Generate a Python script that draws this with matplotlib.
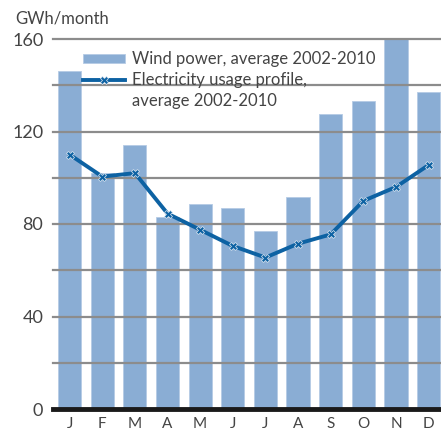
import matplotlib
matplotlib.use("Agg")
import matplotlib.pyplot as plt
from matplotlib.lines import Line2D

months = ["J", "F", "M", "A", "M", "J", "J", "A", "S", "O", "N", "D"]
wind = [146, 102, 114, 83, 88.5, 87, 77, 91.5, 127.5, 133, 160, 137]
usage = [110, 100.5, 102, 84.5, 77.5, 70.5, 65.5, 71.5, 75.5, 90, 96, 105.5]

bar_color = "#8aadd4"
line_color = "#0d62a3"
grid_color = "#8c8c8c"
text_color = "#444444"

plt.rcParams["font.family"] = ["Lato", "DejaVu Sans"]

fig = plt.figure(figsize=(4.41, 4.33), dpi=100)
ax = fig.add_axes([53 / 441, 1 - 409 / 433, 388 / 441, 370 / 433])

x = list(range(len(months)))
bars = ax.bar(x, wind, width=0.71, color=bar_color, edgecolor="#b5cbe5", linewidth=0.6,
              label="Wind power, average 2002-2010", zorder=2)
line, = ax.plot(x, usage, color=line_color, linewidth=2.8, marker="X", markersize=6,
                markeredgecolor="#dfe8f2", markeredgewidth=0.5,
                label="Electricity usage profile,", zorder=4)

ax.set_xlim(-0.51, 11.38)
ax.set_ylim(0, 160)
ax.set_yticks([0, 40, 80, 120, 160])
for y in [20, 40, 60, 80, 100, 120, 140, 160]:
    ax.axhline(y, color=grid_color, linewidth=1.6, zorder=3, clip_on=False)
ax.axhline(0, color="#1a1a1a", linewidth=3.5, zorder=5, clip_on=False)

ax.set_xticks(x)
ax.set_xticklabels(months)
for s in ax.spines.values():
    s.set_visible(False)
ax.tick_params(axis="x", length=0, pad=6, labelsize=11, labelcolor=text_color)
ax.tick_params(axis="y", length=0, pad=7, labelsize=13, labelcolor=text_color)

fig.text(15 / 441, 1 - 18 / 433, "GWh/month", fontsize=12, color=text_color,
         va="center", ha="left")

blank = Line2D([], [], linestyle="none")
leg = ax.legend([bars, line, blank],
                [bars.get_label(), line.get_label(), "average 2002-2010"],
                loc="upper left", bbox_to_anchor=(0.06, 0.985), frameon=False,
                fontsize=12, handlelength=2.5, handleheight=0.5, handletextpad=0.45,
                labelspacing=0.3, borderaxespad=0)
for t in leg.get_texts():
    t.set_color(text_color)

fig.savefig("out.png", dpi=100)
